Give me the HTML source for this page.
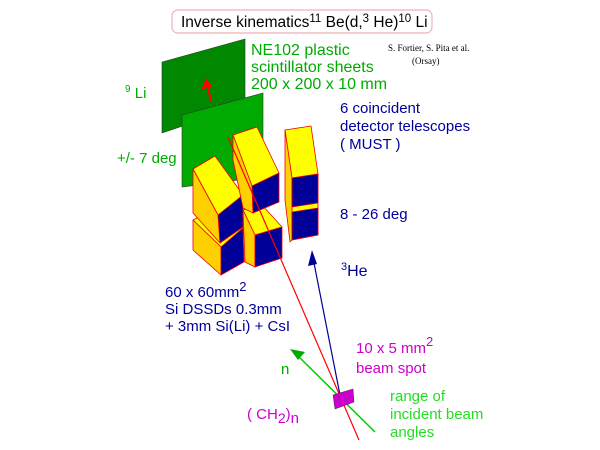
<!DOCTYPE html>
<html><head><meta charset="utf-8"><style>
html,body{margin:0;padding:0;background:#fff;width:600px;height:450px;overflow:hidden}
text{font-family:"Liberation Sans",sans-serif}
</style></head><body>
<svg width="600" height="450" viewBox="0 0 600 450" xmlns="http://www.w3.org/2000/svg">
<rect x="172" y="10" width="260" height="23" rx="6" fill="#fff" stroke="#f0b0b8" stroke-width="1.2"/>
<text x="181" y="27" font-size="15.5" fill="#000">Inverse kinematics<tspan font-size="11.5" dy="-5">11</tspan><tspan dy="5"> Be(d,</tspan><tspan font-size="11.5" dy="-5">3</tspan><tspan dy="5"> He)</tspan><tspan font-size="11.5" dy="-5">10</tspan><tspan dy="5"> Li</tspan></text>
<polygon points="162,62 245,39 245,105 162,133" fill="#008800" stroke="#333" stroke-width="0.6"/>
<polygon points="210,102 207,88 201,90 206,78 212,86 209,88 212,101" fill="#f00"/>
<polygon points="182,115 263,93 263,177 182,187" fill="#00aa00" stroke="#333" stroke-width="0.6"/>
<g stroke="#e00" stroke-width="0.8" stroke-linejoin="round">
<polygon points="193,220 205,214 243,228 221,247" fill="#ffff00"/>
<polygon points="193,220 221,247 221,275 193,250" fill="#ffd000"/>
<polygon points="221,247 243,228 244,262 221,275" fill="#000099"/>
<polygon points="193,169 215,156 243,195 218,215" fill="#ffff00"/>
<polygon points="193,169 218,215 220,243 193,213" fill="#ffd000"/>
<polygon points="218,215 243,195 243,227 220,243" fill="#000099"/>
<polygon points="243,210 262,205 282,227 255,235" fill="#ffff00"/>
<polygon points="243,210 255,235 255,267 245,262" fill="#ffd000"/>
<polygon points="255,235 282,227 282,258 255,267" fill="#000099"/>
<polygon points="233,135 257,127 279,173 252,186" fill="#ffff00"/>
<polygon points="233,135 252,186 253,213 243,208 233,160" fill="#ffd000"/>
<polygon points="252,186 279,173 279,202 253,213" fill="#000099"/>
<polygon points="285,130 311,126 318,174 292,178" fill="#ffff00"/>
<polygon points="285,130 292,178 292,240 290,242 285,200" fill="#ffd000"/>
<polygon points="292,178 318,174 318,235 292,240" fill="#ffff00"/>
<polygon points="292,178 318,174 318,203 292,207" fill="#000099"/>
<polygon points="292,212 318,208 318,235 292,240" fill="#000099"/>
</g>
<line x1="228" y1="137" x2="359" y2="440" stroke="#f00" stroke-width="1.2"/>
<line x1="340" y1="395" x2="313" y2="258" stroke="#000099" stroke-width="1.2"/>
<polygon points="312,250 308,266 317,264" fill="#000099"/>
<line x1="375" y1="432" x2="296" y2="354" stroke="#00cc00" stroke-width="1.5"/>
<polygon points="290,349 305,352 298,360" fill="#00aa00"/>
<polygon points="333,395 353,389 354,402 335,409" fill="#cc00cc" stroke="#333" stroke-width="0.5"/>
<g fill="#00aa00" font-size="16">
<text x="251" y="55">NE102 plastic</text>
<text x="251" y="72">scintillator sheets</text>
<text x="251" y="89">200 x 200 x 10 mm</text>
</g>
<text x="388" y="51" font-size="9" fill="#000" style="font-family:'Liberation Serif',serif">S. Fortier, S. Pita et al.</text>
<text x="412" y="64" font-size="9" fill="#000" style="font-family:'Liberation Serif',serif">(Orsay)</text>
<g fill="#00aa00" font-size="15">
<text x="125" y="98"><tspan font-size="10" dy="-6">9</tspan><tspan dy="6"> Li</tspan></text>
<text x="117" y="163">+/- 7 deg</text>
<text x="281" y="374">n</text>
</g>
<g fill="#22dd22" font-size="15">
<text x="390" y="401">range of</text>
<text x="390" y="419">incident beam</text>
<text x="390" y="437">angles</text>
</g>
<g fill="#000099" font-size="15">
<text x="340" y="113">6 coincident</text>
<text x="340" y="131">detector telescopes</text>
<text x="340" y="149">( MUST )</text>
<text x="340" y="219">8 - 26 deg</text>
<text x="341" y="276"><tspan font-size="11" dy="-6">3</tspan><tspan dy="6" font-size="16">He</tspan></text>
<text x="165" y="297">60 x 60mm<tspan font-size="13" dy="-6">2</tspan></text>
<text x="165" y="314">Si DSSDs 0.3mm</text>
<text x="165" y="331">+ 3mm Si(Li) + CsI</text>
</g>
<g fill="#cc00cc" font-size="15">
<text x="356" y="353">10 x 5  mm<tspan font-size="13" dy="-7">2</tspan></text>
<text x="356" y="373">beam spot</text>
<text x="247" y="419">( CH<tspan font-size="14" dy="4">2</tspan><tspan dy="-4">)</tspan><tspan dy="4">n</tspan></text>
</g>
</svg>
</body></html>
